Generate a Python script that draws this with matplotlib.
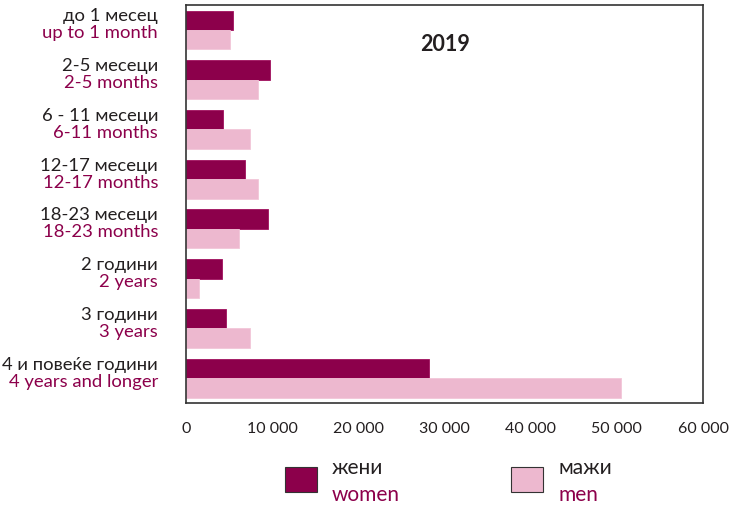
import matplotlib.pyplot as plt
import numpy as np
from matplotlib.patches import Rectangle

plt.rcParams['font.family'] = ['Lato', 'DejaVu Sans']

# податоци
labels_mk = ['до 1 месец', '2-5 месеци', '6 - 11 месеци', '12-17 месеци',
             '18-23 месеци', '2 години', '3 години', '4 и повеќе години']
labels_en = ['up to 1 month', '2-5 months', '6-11 months', '12-17 months',
             '18-23 months', '2 years', '3 years', '4 years and longer']
women = [5400, 9700, 4300, 6900, 9500, 4200, 4600, 28200]
men = [5100, 8300, 7400, 8300, 6100, 1500, 7400, 50500]

dark = '#8c004b'
light = '#edb8cf'
txt = '#231f20'

fig = plt.figure(figsize=(7.4, 5.05), dpi=100)
ax = fig.add_axes([0.2514, 0.202, 0.6986, 0.788])

y = np.arange(len(women))
h = 0.39
ax.barh(y - h / 2, women, height=h, color=dark, edgecolor='#a0105e', linewidth=0.6)
ax.barh(y + h / 2, men, height=h, color=light, edgecolor='#f2c6d8', linewidth=0.6)

ax.set_xlim(0, 60000)
ax.set_ylim(len(women) - 0.5, -0.5)
ax.set_xticks(range(0, 60001, 10000))
ax.set_xticklabels([f'{v:,}'.replace(',', ' ') for v in range(0, 60001, 10000)],
                   fontsize=11.5, color=txt)
ax.tick_params(axis='x', length=0, pad=14)
ax.set_yticks([])
for s in ax.spines.values():
    s.set_color('#333333')
    s.set_linewidth(1.2)

# двојазични етикети
tr = ax.get_yaxis_transform()
for i in range(len(labels_mk)):
    ax.text(-0.054, i - 0.27, labels_mk[i], transform=tr, ha='right', va='center',
            fontsize=13.3, color=txt)
    ax.text(-0.054, i + 0.07, labels_en[i], transform=tr, ha='right', va='center',
            fontsize=13.3, color=dark)

ax.text(0.502, 0.9, '2019', transform=ax.transAxes, ha='center', va='center',
        fontsize=15.5, fontweight='bold', color=txt)

# легенда
for x0, c, mk, en in [(285, dark, 'жени', 'women'), (511, light, 'мажи', 'men')]:
    fig.patches.append(Rectangle((x0 / 740, 1 - 492 / 505), 32 / 740, 25 / 505,
                                 transform=fig.transFigure, facecolor=c,
                                 edgecolor='#333333', linewidth=0.8))
    fig.text((x0 + 47) / 740, 1 - 468 / 505, mk, fontsize=15, color=txt, va='center')
    fig.text((x0 + 47) / 740, 1 - 495 / 505, en, fontsize=15, color=dark, va='center')

plt.savefig('out.png', dpi=100)
